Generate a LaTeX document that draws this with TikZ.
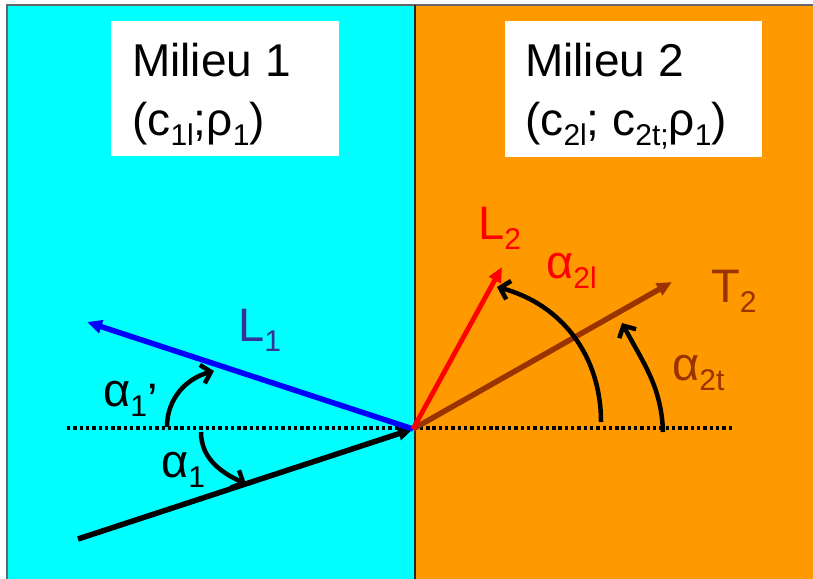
\documentclass[tikz,border=0pt]{standalone}
\usepackage{fontspec}
\setmainfont{Liberation Sans}
\usetikzlibrary{arrows.meta}
\definecolor{cyanbg}{HTML}{00FFFF}
\definecolor{orangebg}{HTML}{FF9900}
\definecolor{brownT}{HTML}{993300}
\definecolor{blueL}{HTML}{333399}
\newcommand\sbx[1]{\raisebox{-0.22em}{\fontsize{30}{30}\selectfont #1}}
\begin{document}
\begin{tikzpicture}[x=1pt,y=-1pt,
  boxtext/.style={anchor=base west, inner sep=0pt, font=\fontsize{46}{46}\selectfont},
  lbl/.style={anchor=base west, inner sep=0pt, font=\fontsize{47}{47}\selectfont},
  whitebox/.style={fill=white, draw=none, anchor=north west, inner sep=0pt},
  ray/.style={line width=5.5pt, -{Triangle[length=15pt,width=13pt]}},
  anglearc/.style={line width=4.5pt, -{Straight Barb[length=9pt,width=19pt]}},
  axis/.style={line width=3.5pt, dash pattern=on 3.4pt off 2.9pt}]
\useasboundingbox (0,0) rectangle (813,578);
\begin{scope}
\clip (0,0) rectangle (813,578);
\fill[cyanbg] (7,5) rectangle (415,590);
\fill[orangebg] (415,5) rectangle (820,590);
\draw[black!60, line width=1.5pt] (7,590) -- (7,5) -- (820,5);
\draw[black!85, line width=1.5pt] (415,5) -- (415,590);
\end{scope}
% white label boxes
\node[whitebox, minimum width=228pt, minimum height=135pt] (box1) at (111,21) {};
\node[whitebox, minimum width=257pt, minimum height=136pt] (box2) at (505,21) {};
\node[boxtext] (m1a) at (132,77) {Milieu 1};
\node[boxtext] (m1b) at (132,135) {(c\sbx{1l};ρ\sbx{1})};
\node[boxtext] (m2a) at (525,77) {Milieu 2};
\node[boxtext] (m2b) at (525,135) {(c\sbx{2l}; c\sbx{2t;}ρ\sbx{1})};
% axis
\coordinate (axl) at (67,428);
\coordinate (axr) at (732,428);
\draw[axis] (axl) -- (axr);
% rays
\coordinate (O) at (413,429);
\coordinate (I) at (78,539);
\coordinate (R1) at (87,322);
\coordinate (R2) at (502,267);
\coordinate (T2) at (672,282);
\draw[ray, black] (I) -- (O);
\draw[ray, blue] (O) -- (R1);
\draw[ray, brownT] (O) -- (T2);
\draw[ray, red, line width=4.8pt] (O) -- (R2);
% angle arcs
\coordinate (a1s) at (167,427);
\coordinate (a1e) at (214,371);
\draw[anglearc] (a1s) to[out=90,in=195] (a1e);
\coordinate (b1s) at (201,432);
\coordinate (b1e) at (246,484);
\draw[anglearc] (b1s) to[out=-90,in=155] (b1e);
\coordinate (c2s) at (601,422);
\coordinate (c2e) at (497,287);
\draw[anglearc] (c2s) to[out=90,in=-15] (c2e);
\coordinate (d2s) at (663,432);
\coordinate (d2e) at (622,323);
\draw[anglearc] (d2s) to[out=92,in=-62] (d2e);
% labels
\node[lbl, text=blueL] (lL1) at (238,341) {L\sbx{1}};
\node[lbl] (la1p) at (103,406) {α\sbx{1}\raisebox{-0.22em}{’}};
\node[lbl] (la1) at (161,477) {α\sbx{1}};
\node[lbl, text=red] (lL2) at (478,239) {L\sbx{2}};
\node[lbl, text=red] (la2l) at (546,278) {α\sbx{2l}};
\node[lbl, text=brownT] (lT2) at (711,302) {T\sbx{2}};
\node[lbl, text=brownT] (la2t) at (672,380) {α\sbx{2t}};
\end{tikzpicture}
\end{document}
